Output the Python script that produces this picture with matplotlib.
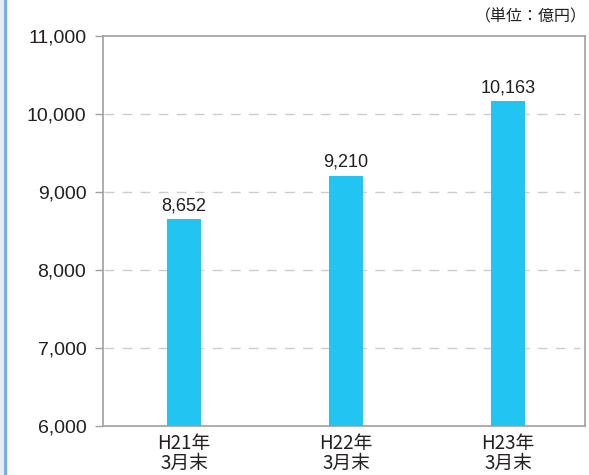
import matplotlib
matplotlib.use("Agg")
import matplotlib.pyplot as plt
from matplotlib.ticker import FuncFormatter
from matplotlib.lines import Line2D

plt.rcParams['font.family'] = ['Liberation Sans', 'Noto Sans CJK JP', 'DejaVu Sans']

# data
categories = ['H21年\n3月末', 'H22年\n3月末', 'H23年\n3月末']
values = [8652, 9210, 10163]
yticks = [6000, 7000, 8000, 9000, 10000, 11000]
unit_label = '（単位：億円）'

BAR_COLOR = '#22c4f2'
TEXT_COLOR = '#231f20'
SPINE_COLOR = '#a0a0a0'

fig = plt.figure(figsize=(5.89, 4.75), dpi=100)
ax = fig.add_axes([103 / 589, 1 - 426 / 475, 482 / 589, 390 / 475])

x = list(range(len(categories)))
ax.bar(x, values, width=0.205, color=BAR_COLOR, zorder=3)

for xi, v in zip(x, values):
    ax.text(xi, v + 60, f'{v:,}', ha='center', va='bottom', fontsize=13,
            color=TEXT_COLOR, zorder=4)

ax.set_ylim(6000, 11000)
ax.set_xlim(-0.5, 2.475)
ax.set_yticks(yticks)
ax.yaxis.set_major_formatter(FuncFormatter(lambda v, p: f'{int(v):,}'))
ax.set_xticks(x)
ax.set_xticklabels(categories, family=['Noto Sans CJK JP', 'DejaVu Sans'],
                   fontsize=13.5, linespacing=0.95)

ax.tick_params(axis='y', length=6, width=1, color=SPINE_COLOR, labelsize=14,
               labelcolor=TEXT_COLOR, pad=6)
ax.tick_params(axis='x', length=0, labelcolor=TEXT_COLOR, pad=5)

# dashed gridlines
for t in yticks[1:-1]:
    ax.axhline(t, xmin=0.003, xmax=0.99, color='#cccccc', lw=1,
               dashes=(7, 6), zorder=1)

for s in ax.spines.values():
    s.set_color(SPINE_COLOR)
    s.set_linewidth(1.2)

fig.text(587 / 589, 1 - 17 / 475, unit_label, ha='right', va='center',
         fontsize=11.5, color=TEXT_COLOR,
         family=['Noto Sans CJK JP', 'DejaVu Sans'])

# page decoration on the left edge
fig.add_artist(Line2D([5 / 589, 5 / 589], [0, 1], transform=fig.transFigure,
                      color='#7aaee0', lw=2.5))
fig.add_artist(Line2D([1 / 589, 1 / 589], [0, 1], transform=fig.transFigure,
                      color='#e6ecef', lw=2.5))

fig.savefig('out.png', dpi=100)
